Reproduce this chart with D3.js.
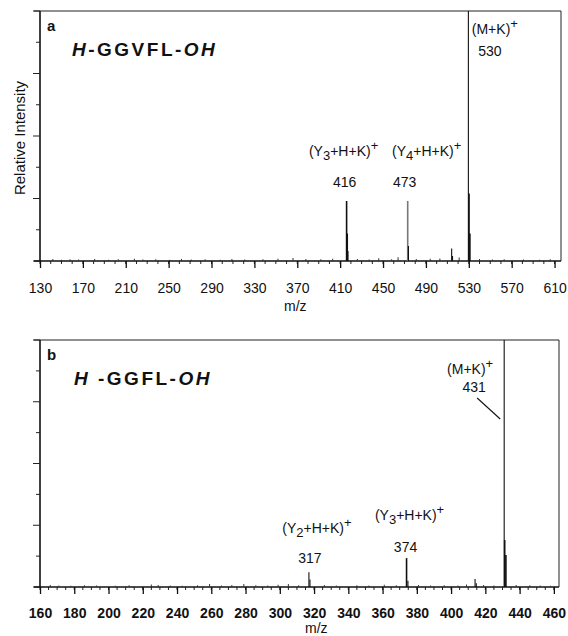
<!DOCTYPE html>
<html>
<head>
<meta charset="utf-8">
<script src="https://cdn.jsdelivr.net/npm/d3@7"></script>
<style>
	body { margin: 0; background: #fff; }
	svg text { font-family: 'Liberation Sans', Arial, sans-serif; fill: #111; }
</style>
</head>
<body>
<script>
// panel a : H-GGVFL-OH
var aTicks = [130, 170, 210, 250, 290, 330, 370, 410, 450, 490, 530, 570, 610]
var aPeaks = [[529.6, 100], [530.2, 27], [531, 11], [416, 24], [416.6, 11], [417.3, 4], [473, 24], [473.7, 6], [514, 5], [514.8, 2]]
var aNoise = [[142, 0.8], [150, 0.5], [158, 0.7], [166, 0.6], [181, 0.8], [194, 0.5], [203, 0.7], [218, 0.9], [226, 0.6], [238, 0.7], [251, 0.5], [262, 0.8], [271, 0.6], [284, 0.7], [298, 0.5], [309, 0.8], [321, 0.6], [338, 0.7], [352, 0.9], [366, 1.2], [378, 0.8], [392, 0.7], [403, 0.9], [426, 0.8], [437, 0.6], [446, 1.1], [458, 0.7], [464, 1.5], [481, 0.8], [494, 0.9], [503, 1.0], [521, 1.4], [540, 0.8], [552, 0.6], [563, 0.7], [581, 0.6], [596, 0.5], [606, 0.7]]

// panel b : H-GGFL-OH
var bTicks = [160, 180, 200, 220, 240, 260, 280, 300, 320, 340, 360, 380, 400, 420, 440, 460]
var bPeaks = [[431, 100], [431.3, 19], [432, 13], [317, 6], [317.6, 3], [374, 11.7], [374.8, 2.5], [414, 3.2], [414.7, 1.5]]
var bNoise = [[166, 0.8], [171, 0.6], [178, 0.5], [186, 0.7], [193, 0.6], [204, 0.5], [212, 0.7], [225, 1.0], [229, 0.8], [236, 0.6], [243, 0.5], [252, 0.7], [259, 1.2], [266, 0.6], [272, 0.8], [279, 1.2], [286, 0.7], [293, 0.6], [299, 0.9], [305, 1.2], [311, 0.7], [326, 0.8], [333, 0.6], [345, 0.7], [352, 0.6], [361, 0.9], [368, 0.7], [381, 0.8], [388, 0.6], [396, 0.7], [404, 0.6], [409, 1.0], [419, 0.8], [425, 0.6], [438, 0.8], [446, 0.7], [452, 0.6], [458, 0.5]]

var svg = d3.select('body').append('svg')
	.attr('width', 568)
	.attr('height', 636)

function translation(x, y){
	return 'translate(' + x + ',' + y + ')'
}
function rotation(r){
	return 'rotate(' + r + ')'
}

function drawPanel(o){
	var g = svg.append('g')
	var x = d3.scaleLinear().domain(o.domain).range([40, o.right])
	var y = d3.scaleLinear().domain([0, 100]).range([o.base, o.top])

	// frame
	g.append('line').attr('x1', 34).attr('x2', o.right).attr('y1', o.top).attr('y2', o.top)
		.attr('stroke', '#222').attr('stroke-width', 1)
	g.append('line').attr('x1', o.right).attr('x2', o.right).attr('y1', o.top).attr('y2', o.base)
		.attr('stroke', '#222').attr('stroke-width', 1)
	g.append('line').attr('x1', 40).attr('x2', 40).attr('y1', o.top).attr('y2', o.base)
		.attr('stroke', '#111').attr('stroke-width', 1.6)

	// y ticks
	var yt = d3.range(0, 100.1, 12.5)
	g.selectAll('.yt').data(yt).enter().append('line')
		.attr('x1', function(d){ return d % 25 === 0 ? 33 : 36 })
		.attr('x2', 40)
		.attr('y1', function(d){ return y(d) })
		.attr('y2', function(d){ return y(d) })
		.attr('stroke', '#222')

	// minor x ticks
	var minor = d3.range(o.domain[0], o.domain[1], o.minorStep)
	g.selectAll('.xm').data(minor).enter().append('line')
		.attr('x1', function(d){ return x(d) })
		.attr('x2', function(d){ return x(d) })
		.attr('y1', o.base)
		.attr('y2', o.base + 3)
		.attr('stroke', '#222')

	// x axis
	var axis = d3.axisBottom(x).tickValues(o.ticks).tickSize(7).tickPadding(o.pad).tickSizeOuter(0)
	var ax = g.append('g').attr('transform', translation(0, o.base)).call(axis)
	ax.select('.domain').attr('stroke', '#111').attr('stroke-width', 1.3).attr('d', 'M34,0H' + o.right)
	ax.selectAll('.tick line').attr('stroke', '#111').attr('stroke-width', 1.3)
	ax.selectAll('.tick text').style('font-size', '14px').style('font-weight', o.tickWeight)
		.style('font-family', "'Liberation Sans', Arial, sans-serif").attr('fill', '#111')

	// noise
	g.selectAll('.nz').data(o.noise).enter().append('line')
		.attr('x1', function(d){ return x(d[0]) })
		.attr('x2', function(d){ return x(d[0]) })
		.attr('y1', y(0))
		.attr('y2', function(d){ return y(d[1]) })
		.attr('stroke', '#333').attr('stroke-width', 1)

	// peaks
	g.selectAll('.pk').data(o.peaks).enter().append('line')
		.attr('x1', function(d){ return x(d[0]) })
		.attr('x2', function(d){ return x(d[0]) })
		.attr('y1', y(0))
		.attr('y2', function(d){ return y(d[1]) })
		.attr('stroke', function(d){ return Math.round(d[0]) === o.grey ? '#777' : '#111' })
		.attr('stroke-width', function(d){ return d[1] < 100 && d[1] > 10 ? 1.6 : 1.1 })

	// axis title
	g.append('text').attr('x', o.mzX).attr('y', o.mzY).style('font-size', '14px').text('m/z')

	// panel letter and peptide
	g.append('text').attr('x', 47).attr('y', o.top + 20).style('font-size', '15px').style('font-weight', 'bold').text(o.letter)
	var pep = g.append('text').attr('x', o.pepX).attr('y', o.top + 45)
		.style('font-size', '19px').style('font-weight', 'bold').style('letter-spacing', '2.5px')
	pep.append('tspan').style('font-style', 'italic').text(o.pepHead)
	pep.append('tspan').text(o.pepBody)
	pep.append('tspan').style('font-style', 'italic').text('OH')

	return {g: g, x: x, y: y}
}

function ionLabel(g, px, py, sub, anchor){
	var t = g.append('text').attr('x', px).attr('y', py).attr('text-anchor', anchor || 'middle')
		.style('font-size', '14px')
	if (sub) {
		t.append('tspan').text('(Y')
		t.append('tspan').attr('dy', 4).style('font-size', '13px').text(sub)
		t.append('tspan').attr('dy', -4).text('+H+K)')
	} else {
		t.append('tspan').text('(M+K)')
	}
	t.append('tspan').attr('dy', -6).style('font-size', '13px').text('+')
}

function numLabel(g, px, py, s){
	g.append('text').attr('x', px).attr('y', py).attr('text-anchor', 'middle').style('font-size', '14px').text(s)
}

var a = drawPanel({domain: [130, 616], right: 561, top: 11, base: 261, ticks: aTicks, minorStep: 10, pad: 15, tickWeight: 'normal',
	peaks: aPeaks, noise: aNoise, grey: 473, letter: 'a', pepX: 72, pepHead: 'H', pepBody: '-GGVFL-', mzX: 284, mzY: 311})
var b = drawPanel({domain: [160, 463], right: 559, top: 340, base: 587, ticks: bTicks, minorStep: 5, pad: 14, tickWeight: 'bold',
	peaks: bPeaks, noise: bNoise, grey: -1, letter: 'b', pepX: 74, pepHead: 'H ', pepBody: '-GGFL-', mzX: 305, mzY: 633})

// y title (panel a)
svg.append('text').attr('transform', translation(25, 138) + ' ' + rotation(-90))
	.attr('text-anchor', 'middle').style('font-size', '15px').text('Relative Intensity')

// panel a labels
ionLabel(a.g, a.x(530) + 3, 34, null, 'start')
numLabel(a.g, a.x(530) + 21, 56, '530')
ionLabel(a.g, a.x(416) - 3, 156, '3')
numLabel(a.g, a.x(416) - 2, 187, '416')
ionLabel(a.g, a.x(473) + 19, 156, '4')
numLabel(a.g, a.x(473) - 3, 187, '473')

// panel b labels
ionLabel(b.g, b.x(431) - 11, 374, null, 'end')
numLabel(b.g, b.x(431) - 30, 392, '431')
b.g.append('line').attr('x1', b.x(431) - 27).attr('y1', 398).attr('x2', b.x(431) - 4).attr('y2', 419)
	.attr('stroke', '#111').attr('stroke-width', 1.1)
ionLabel(b.g, b.x(317) + 8, 533, '2')
numLabel(b.g, b.x(317) + 1, 563, '317')
ionLabel(b.g, b.x(374) + 3, 520, '3')
numLabel(b.g, b.x(374) - 1, 552, '374')
</script>
</body>
</html>
